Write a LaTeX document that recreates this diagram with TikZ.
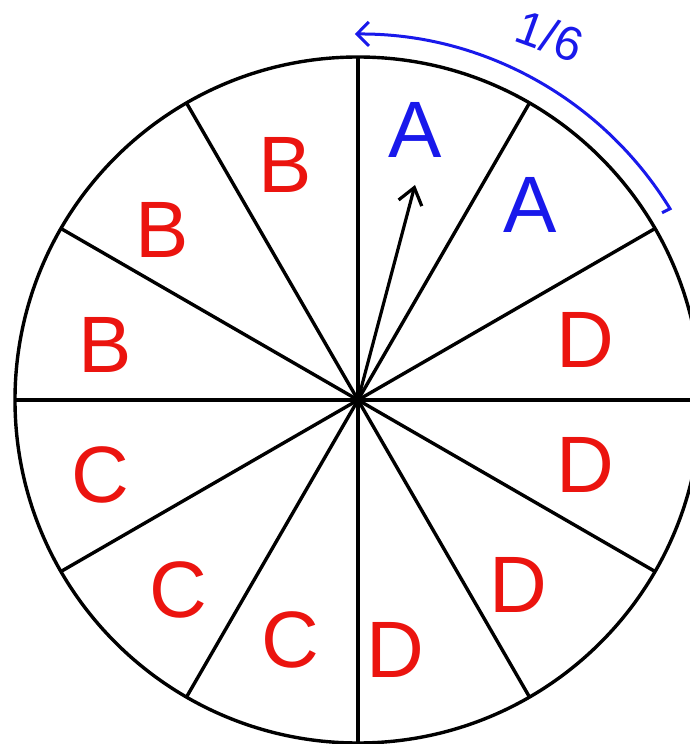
\documentclass[tikz,border=0pt]{standalone}
\usepackage{fontspec}
\setmainfont{Liberation Sans}
\usetikzlibrary{arrows.meta}
\definecolor{penred}{RGB}{235,20,15}
\definecolor{penblue}{RGB}{25,25,235}
\tikzset{
  wheel/.style={line width=1.7pt, black},
  letter/.style={font=\fontsize{40}{40}\selectfont, inner sep=0pt},
  redl/.style={letter, text=penred},
  bluel/.style={letter, text=penblue},
}
\begin{document}
\begin{tikzpicture}[x=0.5pt,y=0.5pt]
\useasboundingbox (-358,-344) rectangle (332,400);
\clip (-358,-344) rectangle (332,400);
\fill[white] (-358,-344) rectangle (332,400);
\coordinate (c) at (0,0);
\draw[wheel] (c) circle (343);
\foreach \a in {0,30,...,330} \draw[wheel] (c) -- (\a:343);
\coordinate (tip) at (57,215);
\draw[line width=1.6pt, -{Straight Barb[length=8pt,width=12pt]}] (c) -- (tip);
\node[bluel] (a1) at (57,270) {A};
\node[bluel] (a2) at (172,195) {A};
\node[redl] (b1) at (-73,235) {B};
\node[redl] (b2) at (-196,170) {B};
\node[redl] (b3) at (-253,55) {B};
\node[redl] (d1) at (227,60) {D};
\node[redl] (d2) at (227,-65) {D};
\node[redl] (d3) at (160,-185) {D};
\node[redl] (d4) at (37,-250) {D};
\node[redl] (c1) at (-258,-75) {C};
\node[redl] (c2) at (-180,-190) {C};
\node[redl] (c3) at (-68,-240) {C};
\draw[penblue, line width=1.5pt, {Straight Barb[length=6pt,width=12pt]}-] (90.5:366) arc (90.5:31.5:366) coordinate (e) -- ++(-8,-4);
\node[bluel, font=\fontsize{24}{24}\selectfont, rotate=-20] (frac) at (192,364) {1/6};
\end{tikzpicture}
\end{document}
